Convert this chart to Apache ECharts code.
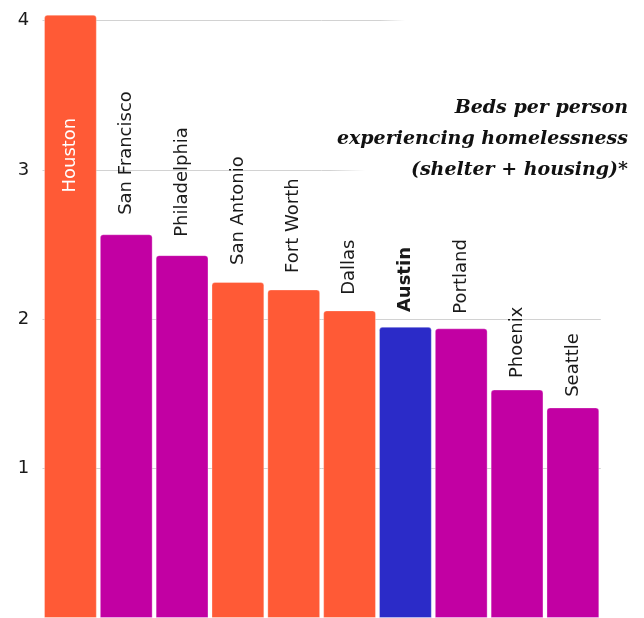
<!DOCTYPE html>
<html>
<head>
<meta charset="utf-8">
<script src="https://cdn.jsdelivr.net/npm/echarts@6/dist/echarts.min.js"></script>
<style>html,body{margin:0;padding:0;background:#fff}#c{width:644px;height:618px}</style>
</head>
<body>
<div id="c"></div>
<script>
const cities = ['Houston','San Francisco','Philadelphia','San Antonio','Fort Worth','Dallas','Austin','Portland','Phoenix','Seattle'];
const bedsPerPerson = [4.04, 2.57, 2.43, 2.25, 2.20, 2.06, 1.95, 1.94, 1.53, 1.41];
const group = ['texas','other','other','texas','texas','texas','austin','other','other','other'];
const yTicks = [0, 1, 2, 3, 4];
const titleLines = ['Beds per person', 'experiencing homelessness', '(shelter + housing)*'];

const colors = { texas: '#FF5A36', other: '#C200A3', austin: '#2B2BC8' };
const gridTop = 20.7, gridHeight = 603.4;
const pxPerUnit = gridHeight / (yTicks[yTicks.length-1] - yTicks[0]);
const labelFont = 'DejaVu Sans';

const data = bedsPerPerson.map((v, i) => {
  const item = { value: v, itemStyle: { color: colors[group[i]] } };
  if (i === 0) {
    item.label = { show: true, position: 'insideTop', distance: 103, rotate: 90, align: 'right', verticalAlign: 'middle', color: '#fff', fontSize: 18, fontFamily: labelFont, formatter: cities[i] };
  } else {
    item.label = { show: true, position: 'top', distance: v * pxPerUnit * 0.05, rotate: 90, align: 'left', verticalAlign: 'middle', color: '#1a1a1a', fontSize: 18, fontFamily: labelFont, fontWeight: group[i] === 'austin' ? 'bold' : 'normal', formatter: cities[i] };
  }
  return item;
});

function fade(x0, w, fadeW) {
  return new echarts.graphic.LinearGradient(0, 0, 1, 0, [
    { offset: 0, color: 'rgba(255,255,255,0)' },
    { offset: fadeW / w, color: 'rgba(255,255,255,1)' },
    { offset: 1, color: 'rgba(255,255,255,1)' }
  ]);
}

const chart = echarts.init(document.getElementById('c'), null, { renderer: 'canvas' });
chart.setOption({
  animation: false,
  backgroundColor: '#fff',
  grid: { left: 42.5, right: 43.2, top: gridTop, height: gridHeight, containLabel: false },
  xAxis: {
    type: 'category', data: cities,
    axisLine: { show: false }, axisTick: { show: false }, axisLabel: { show: false }
  },
  yAxis: {
    type: 'value', min: yTicks[0], max: yTicks[yTicks.length-1], interval: 1,
    axisLine: { show: false }, axisTick: { show: false },
    axisLabel: { color: '#1a1a1a', fontSize: 18, fontFamily: labelFont, align: 'center', margin: 19,
      formatter: v => v === 0 ? '' : String(v) },
    splitLine: { lineStyle: { color: '#d2d2d2', width: 1 } }
  },
  graphic: [
    { type: 'rect', z: 1, shape: { x: 380, y: -30, width: 300, height: 125 },
      style: { fill: fade(380, 300, 25) } },
    { type: 'rect', z: 1, shape: { x: 330, y: 95, width: 350, height: 95 },
      style: { fill: fade(330, 350, 35) } },
    { type: 'text', z: 3, x: 628, y: 92.5,
      style: { text: titleLines.join('\n'), align: 'right', verticalAlign: 'top',
        fill: '#111', font: 'italic bold 19px "DejaVu Serif"', lineHeight: 31 } }
  ],
  series: [{
    type: 'bar', data: data, barCategoryGap: '5.4%', clip: false,
    itemStyle: { borderRadius: [3, 3, 0, 0], borderColor: 'rgba(255,255,255,0.3)', borderWidth: 1 }
  }]
});
</script>
</body>
</html>
